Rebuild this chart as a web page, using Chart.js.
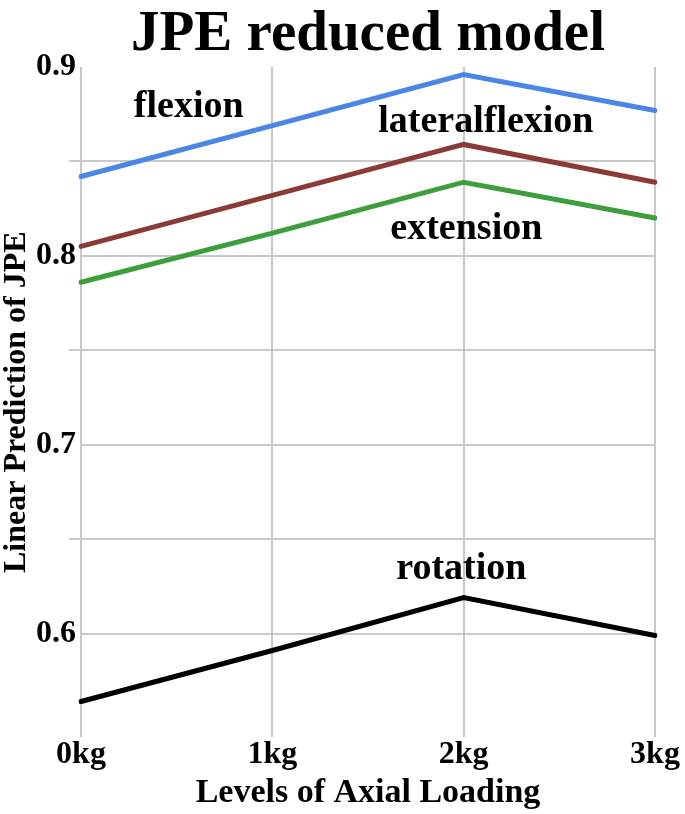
<!DOCTYPE html>
<html>
<head>
<meta charset="utf-8">
<script src="https://cdn.jsdelivr.net/npm/chart.js@4/dist/chart.umd.min.js"></script>
<style>
  html, body { margin: 0; padding: 0; background: #ffffff; }
  #wrap { width: 685px; height: 814px; }
</style>
</head>
<body>
<div id="wrap"><canvas id="c" width="685" height="814"></canvas></div>
<script>
// ---- data ----
const categories = ["0kg", "1kg", "2kg", "3kg"];
const flexion        = [0.842, 0.869, 0.896, 0.877];
const lateralflexion = [0.805, 0.832, 0.859, 0.839];
const extension      = [0.786, 0.812, 0.839, 0.820];
const rotation       = [0.564, 0.591, 0.619, 0.599];
const yTicks = [0.6, 0.65, 0.7, 0.75, 0.8, 0.85, 0.9];
const yLabelTicks = [0.6, 0.7, 0.8, 0.9];
const chartTitle = "JPE reduced model";

// in-plot series labels, anchored in data space (category index, value at baseline)
const seriesLabels = [
  { text: "flexion",        x: 0.563, y: 0.8734 },
  { text: "lateralflexion", x: 2.116, y: 0.8654 },
  { text: "extension",      x: 2.014, y: 0.8090 },
  { text: "rotation",       x: 1.988, y: 0.6287 }
];

const FONT = "'Liberation Serif', 'Times New Roman', serif";
Chart.defaults.font.family = FONT;
Chart.defaults.color = "#000";

const near = (a, b) => Math.abs(a - b) < 1e-6;

const labelPlugin = {
  id: "seriesLabels",
  afterDatasetsDraw(chart) {
    const { ctx, chartArea, scales: { x, y } } = chart;
    ctx.save();
    ctx.font = "bold 38px " + FONT;
    ctx.fillStyle = "#000";
    ctx.textAlign = "center";
    ctx.textBaseline = "alphabetic";
    seriesLabels.forEach(l => {
      ctx.fillText(l.text, x.getPixelForValue(l.x), y.getPixelForValue(l.y));
    });
    // chart title, centred over the plot area
    ctx.font = "bold 57px " + FONT;
    ctx.fillText(chartTitle, (chartArea.left + chartArea.right) / 2, 50);
    ctx.restore();
  }
};

const mk = (label, data, color) => ({
  label, data, borderColor: color, backgroundColor: color,
  borderWidth: 5, pointRadius: 0, tension: 0, fill: false,
  borderCapStyle: "round", borderJoinStyle: "miter"
});

new Chart(document.getElementById("c"), {
  type: "line",
  data: {
    labels: categories,
    datasets: [
      mk("flexion", flexion, "#4a86e8"),
      mk("lateralflexion", lateralflexion, "#8b3a36"),
      mk("extension", extension, "#3c9e3c"),
      mk("rotation", rotation, "#000000")
    ]
  },
  options: {
    responsive: false,
    animation: false,
    layout: { padding: { left: 1, right: 30, top: 67, bottom: 0 } },
    plugins: {
      legend: { display: false },
      tooltip: { enabled: false },
      title: { display: false }
    },
    scales: {
      x: {
        offset: false,
        border: { display: false },
        grid: { color: "#c8c8c8", lineWidth: 2, drawTicks: false },
        ticks: { font: { size: 32, weight: "bold", family: FONT, lineHeight: 1.1 }, padding: 0, color: "#000", maxRotation: 0 },
        title: {
          display: true, text: "Levels of Axial Loading",
          font: { size: 34, weight: "bold", family: FONT, lineHeight: 1.1 },
          padding: { top: 2, bottom: 2 }, color: "#000"
        }
      },
      y: {
        min: 0.545,
        max: 0.9,
        afterBuildTicks: (scale) => { scale.ticks = yTicks.map(v => ({ value: v })); },
        border: { display: false },
        grid: {
          lineWidth: 2,
          tickLength: 12,
          color: (c) => (c.tick && near(c.tick.value, 0.9)) ? "rgba(0,0,0,0)" : "#c8c8c8",
          tickColor: (c) => (c.tick && yLabelTicks.some(v => near(v, c.tick.value))) ? "rgba(0,0,0,0)" : "#c8c8c8"
        },
        ticks: {
          padding: -7,
          color: "#000",
          font: { size: 32, weight: "bold", family: FONT, lineHeight: 1.2 },
          callback: (v) => yLabelTicks.some(t => near(t, v)) ? v.toFixed(1) : ""
        },
        title: {
          display: true, text: "Linear Prediction of JPE",
          font: { size: 32, weight: "bold", family: FONT, lineHeight: 1.0 },
          padding: { top: 0, bottom: 10 }, color: "#000"
        }
      }
    }
  },
  plugins: [labelPlugin]
});
</script>
</body>
</html>
